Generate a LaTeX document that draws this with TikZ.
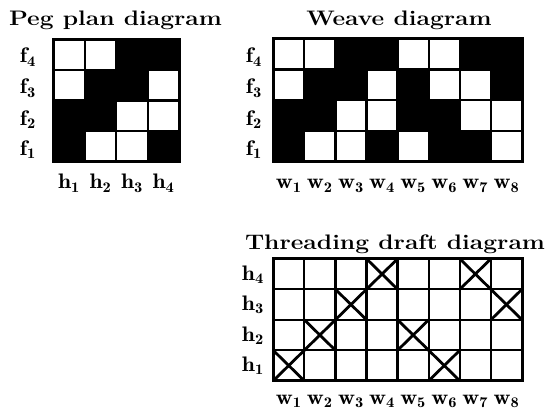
\documentclass[tikz,border=0pt]{standalone}
\usepackage{fontspec}
\newcommand{\widett}[1]{\scalebox{1.17}[1]{#1}}
\newcommand{\sublab}[2]{\scalebox{1.12}[1]{$\mathbf{#1}_{\mathbf{#2}}$}}
\begin{document}
\begin{tikzpicture}[x=1pt,y=-1pt,
  title/.style={font=\fontsize{21}{25}\selectfont\bfseries, inner sep=0pt, anchor=base},
  lab/.style={font=\fontsize{21}{25}\selectfont, inner sep=0pt},
  rlab/.style={lab, anchor=base east},
  blab/.style={lab, anchor=base},
  gridline/.style={line width=2.3pt},
  outline/.style={line width=3pt},
  cross/.style={line width=2.8pt, line cap=round}]
\useasboundingbox (0,0) rectangle (547,412);

% titles
\node[title] (t1) at (115.5,26) {\widett{Peg plan diagram}};
\node[title] (t2) at (399,26) {\widett{Weave diagram}};
\node[title] (t3) at (395,249) {\widett{Threading draft diagram}};

% ---------- Peg plan ----------
\begin{scope}[shift={(53.2pt,-39.2pt)}, x=31.5pt, y=-30.65pt]
  \foreach \c/\r in {3/1,4/1,2/2,3/2,1/3,2/3,1/4,4/4}
    \fill[black] (\c-1,\r-1) rectangle (\c,\r);
  \foreach \i in {1,2,3} {
    \draw[gridline] (\i,0) -- (\i,4);
    \draw[gridline] (0,\i) -- (4,\i);
  }
  \draw[outline] (0,0) rectangle (4,4);
\end{scope}
\node[rlab] (pf4) at (36,63) {\sublab{f}{4}};
\node[rlab] (pf3) at (36,94) {\sublab{f}{3}};
\node[rlab] (pf2) at (36,125) {\sublab{f}{2}};
\node[rlab] (pf1) at (36,155) {\sublab{f}{1}};
\foreach \j in {1,2,3,4}
  \node[blab] (ph\j) at ({53.2+31.5*(\j-0.5)},189) {\sublab{h}{\j}};

% ---------- Weave ----------
\begin{scope}[shift={(273.2pt,-38.8pt)}, x=31.1pt, y=-30.75pt]
  \foreach \c/\r in {3/1,4/1,7/1,8/1, 2/2,3/2,5/2,8/2, 1/3,2/3,5/3,6/3, 1/4,4/4,6/4,7/4}
    \fill[black] (\c-1,\r-1) rectangle (\c,\r);
  \foreach \i in {1,...,7}
    \draw[gridline] (\i,0) -- (\i,4);
  \foreach \i in {1,2,3}
    \draw[gridline] (0,\i) -- (8,\i);
  \draw[outline] (0,0) rectangle (8,4);
\end{scope}
\node[rlab] (wf4) at (262,63) {\sublab{f}{4}};
\node[rlab] (wf3) at (262,94) {\sublab{f}{3}};
\node[rlab] (wf2) at (262,125) {\sublab{f}{2}};
\node[rlab] (wf1) at (262,155) {\sublab{f}{1}};
\foreach \j in {1,...,8}
  \node[blab] (ww\j) at ({273.2+31.1*(\j-0.5)},189) {\sublab{w}{\j}};

% ---------- Threading draft ----------
\begin{scope}[shift={(273.2pt,-258.8pt)}, x=31.1pt, y=-30.5pt]
  \foreach \i in {1,...,7}
    \draw[gridline] (\i,0) -- (\i,4);
  \foreach \i in {1,2,3}
    \draw[gridline] (0,\i) -- (8,\i);
  \draw[outline] (0,0) rectangle (8,4);
  \foreach \c/\r in {4/1,7/1, 3/2,8/2, 2/3,5/3, 1/4,6/4} {
    \draw[cross] (\c-1,\r-1) -- (\c,\r);
    \draw[cross] (\c-1,\r) -- (\c,\r-1);
  }
\end{scope}
\node[rlab] (th4) at (264,280) {\sublab{h}{4}};
\node[rlab] (th3) at (264,310.5) {\sublab{h}{3}};
\node[rlab] (th2) at (264,341) {\sublab{h}{2}};
\node[rlab] (th1) at (264,371.5) {\sublab{h}{1}};
\foreach \j in {1,...,8}
  \node[blab] (tw\j) at ({273.2+31.1*(\j-0.5)},404) {\sublab{w}{\j}};
\end{tikzpicture}
\end{document}
